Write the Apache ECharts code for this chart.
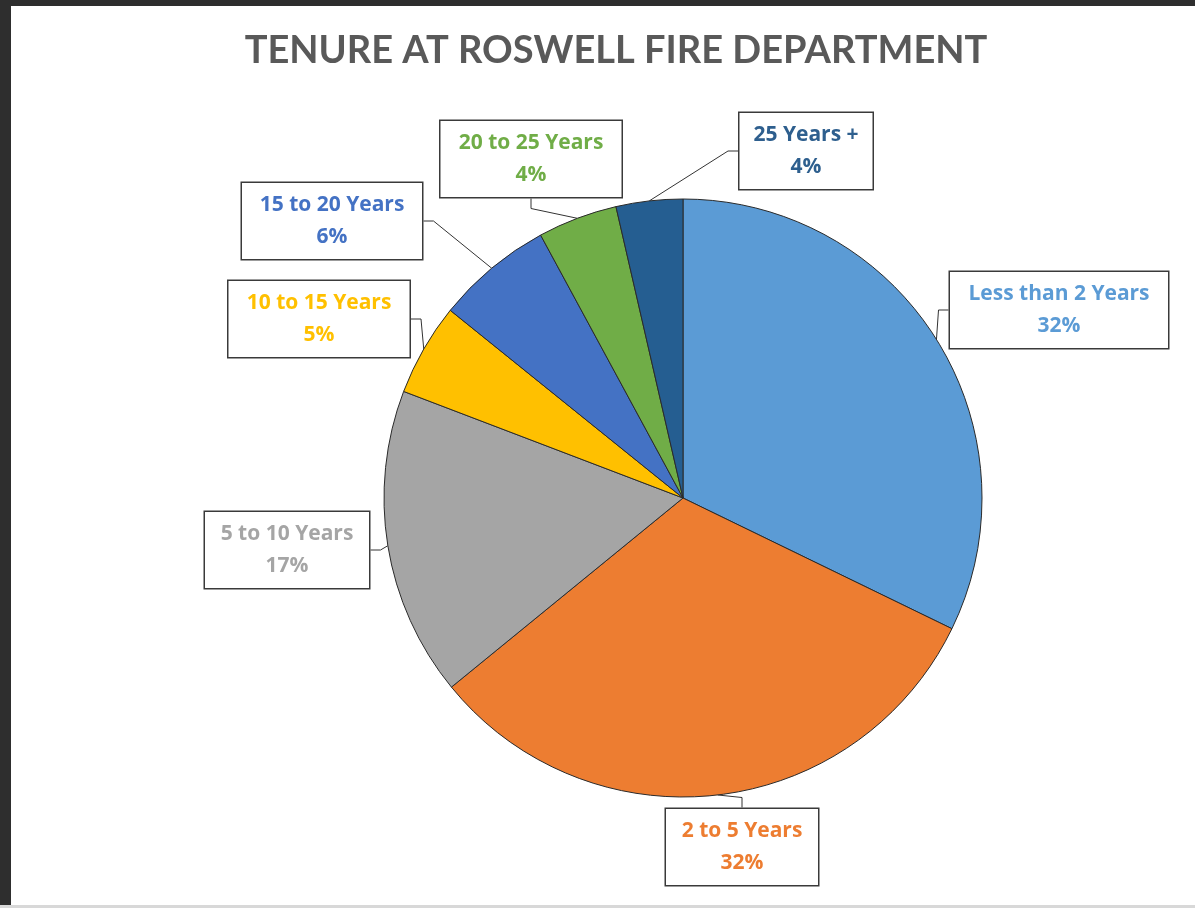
<!DOCTYPE html>
<html><head><meta charset="utf-8">
<script src="https://cdn.jsdelivr.net/npm/echarts@6/dist/echarts.min.js"></script>
<style>
html,body{margin:0;padding:0;background:#fff;}
#chart{position:absolute;left:0;top:0;width:1195px;height:908px;background:#fff;}
.frameL{position:absolute;left:0;top:0;width:11px;height:908px;background:#2e2e2e;}
.frameT{position:absolute;left:0;top:0;width:1195px;height:6px;background:#2e2e2e;}
.frameB{position:absolute;left:0;top:905px;width:1195px;height:3px;background:#d8d8d8;}
</style></head>
<body>
<div id="chart"></div>
<div class="frameL"></div><div class="frameT"></div><div class="frameB"></div>
<script>
const title = 'TENURE AT ROSWELL FIRE DEPARTMENT';
const categories = ['Less than 2 Years','2 to 5 Years','5 to 10 Years','10 to 15 Years','15 to 20 Years','20 to 25 Years','25 Years +'];
const values = [32.2, 31.9, 16.7, 5.0, 6.3, 4.3, 3.6];

const sliceColors = ['#5B9BD5','#ED7D31','#A5A5A5','#FFC000','#4472C4','#70AD47','#255E91'];
const textColors  = ['#5B9BD5','#ED7D31','#A5A5A5','#FFC000','#4472C4','#70AD47','#2E5F8E'];
// label box centres and widths (layout)
const labelBoxes = [
  {x:1059, y:310, w:218},
  {x:742,  y:847, w:152},
  {x:287,  y:550, w:164},
  {x:319,  y:319, w:181},
  {x:332,  y:221, w:180},
  {x:531,  y:159, w:181},
  {x:806,  y:151, w:133}
];

const chart = echarts.init(document.getElementById('chart'));
chart.setOption({
  animation:false,
  title:{text:title,left:611,top:27,textAlign:'center',
    textStyle:{fontFamily:'Lato',fontWeight:'bold',fontSize:38,color:'#595959'}},
  series:[{
    type:'pie',
    center:[683,498],
    radius:299,
    startAngle:90,
    clockwise:true,
    percentPrecision:0,
    itemStyle:{borderColor:'#2a2a2a',borderWidth:1},
    label:{
      show:true,
      position:'outside',
      formatter:'{b}\n{d}%',
      fontFamily:'Open Sans',fontWeight:'bold',fontSize:21,
      lineHeight:32,
      align:'center',verticalAlign:'middle',
      backgroundColor:'#fff',
      borderColor:'#3a3a3a',borderWidth:1.5,
      padding:[6,0]
    },
    labelLine:{show:true,length:10,length2:10,lineStyle:{color:'#333',width:1}},
    labelLayout:function(p){
      const b = labelBoxes[p.dataIndex];
      return {x:b.x, y:b.y, align:'center', verticalAlign:'middle'};
    },
    data:categories.map((c,i)=>({
      name:c, value:values[i],
      itemStyle:{color:sliceColors[i]},
      label:{color:textColors[i], width:labelBoxes[i].w}
    }))
  }]
});
</script>
</body></html>
